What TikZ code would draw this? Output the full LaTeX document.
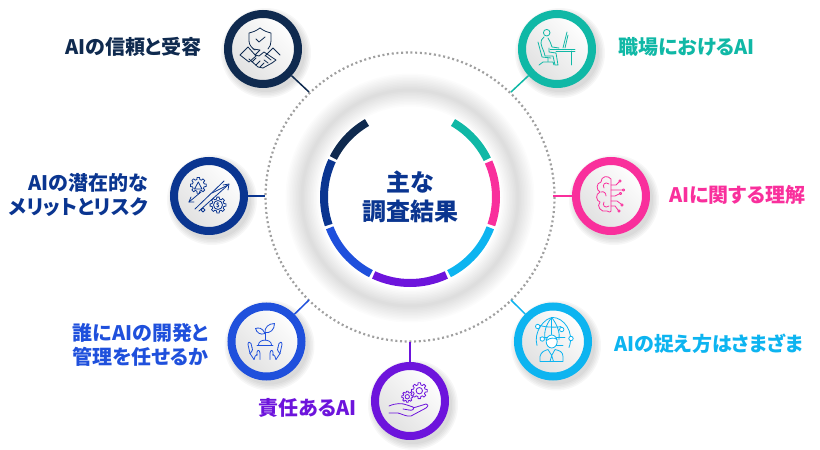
\documentclass[tikz,border=0pt]{standalone}
\usepackage{fontspec}
\setmainfont[RawFeature=+palt]{Noto Sans CJK JP}
\definecolor{navyc}{HTML}{0F2A4F}
\definecolor{tealc}{HTML}{10B8A6}
\definecolor{pinkc}{HTML}{F92F9C}
\definecolor{cyanc}{HTML}{0DB4F0}
\definecolor{purplec}{HTML}{6D14DC}
\definecolor{bluec}{HTML}{1F50DC}
\definecolor{darkbluec}{HTML}{0A3590}
\tikzset{
    x=1pt, y=-1pt,
    every node/.style={font=\fontsize{20}{24}\selectfont\bfseries, inner sep=0pt},
    iconring/.style={circle, draw=#1, line width=8pt, minimum size=70pt, top color=white, bottom color=black!12, shading angle=-45},
    iconline/.style={color=#1, line width=0.8pt, line join=round, line cap=round},
    gearicon/.pic={
        \draw (-14:6) \foreach \a in {0,45,...,315}{ -- (\a-14:6) -- (\a-9:8) -- (\a+9:8) -- (\a+14:6) } -- cycle;
    },
}
\newcommand{\softshadow}[2]{
    \foreach \r in {39,40.5,...,45}{
        \fill[black, opacity=0.03] (#1+3,#2+4) circle (\r);
    }
}
\begin{document}
\begin{tikzpicture}
    \useasboundingbox (0,0) rectangle (820,450);

    % soft grey ring
    \foreach \w in {3,6,...,33}{
        \draw[black, opacity=0.013, line width=\w pt] (410,198) circle (108);
    }

    % dotted circle
    \draw[gray!75, line width=2.2pt, dash pattern=on 2pt off 2.7pt] (410,197) circle (144.5);

    % centre arcs
    \begin{scope}[shift={(410,197)}, line width=8pt]
        \draw[tealc] (-60:86) arc[start angle=-60, end angle=-26, radius=86];
        \draw[pinkc] (-24:86) arc[start angle=-24, end angle=19, radius=86];
        \draw[cyanc] (21:86) arc[start angle=21, end angle=63, radius=86];
        \draw[purplec] (65:86) arc[start angle=65, end angle=115, radius=86];
        \draw[bluec] (117:86) arc[start angle=117, end angle=159, radius=86];
        \draw[darkbluec] (161:86) arc[start angle=161, end angle=205, radius=86];
        \draw[navyc] (207:86) arc[start angle=207, end angle=240, radius=86];
    \end{scope}

    % centre text
    \node[darkbluec, font=\fontsize{24}{29}\selectfont\bfseries, align=center] (title) at (410,197) {主な\\調査結果};

    % ends on the dotted circle
    \coordinate (navyend) at (309,92);
    \coordinate (tealend) at (511,92);
    \coordinate (pinkend) at (553,196);
    \coordinate (cyanend) at (511,300);
    \coordinate (purpleend) at (410,342);
    \coordinate (blueend) at (309,300);
    \coordinate (darkblueend) at (265,196);

    % shadows
    \softshadow{263}{49}
    \softshadow{557}{49}
    \softshadow{611}{196}
    \softshadow{553}{341.5}
    \softshadow{410}{401}
    \softshadow{266.5}{341.5}
    \softshadow{209}{196}

    % icon circles
    \node[iconring=navyc] (navyicon) at (263,49) {};
    \node[iconring=tealc] (tealicon) at (557,49) {};
    \node[iconring=pinkc] (pinkicon) at (611,196) {};
    \node[iconring=cyanc] (cyanicon) at (553,341.5) {};
    \node[iconring=purplec] (purpleicon) at (410,401) {};
    \node[iconring=bluec] (blueicon) at (266.5,341.5) {};
    \node[iconring=darkbluec] (darkblueicon) at (209,196) {};

    % connectors
    \draw[navyc, line width=1.5pt] (navyicon) -- (navyend);
    \draw[tealc, line width=1.5pt] (tealicon) -- (tealend);
    \draw[pinkc, line width=1.5pt] (pinkicon) -- (pinkend);
    \draw[cyanc, line width=1.5pt] (cyanicon) -- (cyanend);
    \draw[purplec, line width=1.5pt] (purpleicon) -- (purpleend);
    \draw[bluec, line width=1.5pt] (blueicon) -- (blueend);
    \draw[darkbluec, line width=1.5pt] (darkblueicon) -- (darkblueend);

    % labels
    \node[navyc, anchor=east] (navylabel) at (202,47) {AIの信頼と受容};
    \node[tealc, anchor=west] (teallabel) at (618,47) {職場におけるAI};
    \node[pinkc, anchor=west] (pinklabel) at (669,195) {AIに関する理解};
    \node[cyanc, anchor=west] (cyanlabel) at (614,344) {AIの捉え方はさまざま};
    \node[purplec, anchor=east] (purplelabel) at (357,408) {責任あるAI};
    \node[bluec, anchor=east, align=center] (bluelabel) at (209,345) {誰にAIの開発と\\管理を任せるか};
    \node[darkbluec, anchor=east, align=right] (darkbluelabel) at (148,195) {AIの潜在的な\\メリットとリスク};

    % shield and handshake
    \begin{scope}[shift={(263,49)}, iconline=navyc]
        \draw (-3,-21) .. controls (-7,-18) and (-10,-17) .. (-14,-16) -- (-14,-8) .. controls (-14,-4) and (-11,-1) .. (-8,1);
        \draw (-3,-21) .. controls (1,-18) and (4,-17) .. (8,-16) -- (8,-8) .. controls (8,-5) and (7,-2) .. (5,0);
        \draw (-7,-10) -- (-4,-7) -- (2,-12);
        \draw (-23,6) -- (-15,-2) -- (-7,7) -- (-14,13) -- cycle;
        \draw (17,6) -- (10,-1) -- (2,7);
        \draw (-10,0) -- (-3,1) -- (-8,6) -- (-4,7) -- (1,3) -- (13,11) -- (9,14);
        \draw (-14,10) -- (-5,18) -- (0,19) -- (9,14);
        \draw (-11,13) -- (-7,9) (-7,16) -- (-3,12) (-3,18) -- (1,14);
        \draw (3,7) -- (8,11) (1,11) -- (5,14);
    \end{scope}

    % person at desk
    \begin{scope}[shift={(557,49)}, iconline=tealc]
        \draw (-10.3,-16.3) circle (3.3);
        \draw (-13,-12) .. controls (-18,-8) and (-16,-4) .. (-13,3) -- (-12,7) -- (-4,7) -- (-2,16) -- (1,16) -- (-1,4) -- (-8,3) -- (-8,-1);
        \draw (-9,-11) .. controls (-7,-8) and (-6,-5) .. (-5,-2) -- (2,-1);
        \draw (-7,0) -- (18,0) (-1,2) -- (18,2);
        \draw (14.5,2) -- (14.5,16);
        \draw (10,-17) -- (6,-1);
        \draw (11,-14) -- (8,-1);
        \draw (-19,-7) -- (-15,8) -- (-6,9);
        \draw (-9,9) -- (-9,12) (-18,16) -- (-14,13) -- (-4,13) -- (-3,16);
    \end{scope}

    % brain with circuits
    \begin{scope}[shift={(611,196)}, iconline=pinkc]
        \draw (0,-17) .. controls (-3,-21) and (-10,-20) .. (-10,-14) .. controls (-15,-13) and (-15,-6) .. (-11,-4) .. controls (-16,-2) and (-15,5) .. (-11,6) .. controls (-15,10) and (-10,17) .. (-4,15) .. controls (-2,17) and (0,16) .. (0,15) -- cycle;
        \draw (-2,-12) .. controls (-6,-15) and (-9,-11) .. (-7,-8);
        \draw (-2,10) .. controls (-6,13) and (-9,9) .. (-7,6);
        \draw (-10,-4) .. controls (-7,-5) and (-5,-3) .. (-5,0);
        \draw (0,-11) -- (5,-11) -- (8,-14) (0,-6) -- (11,-6) (0,0) -- (4,0) -- (8,-2) (0,5) -- (6,5) -- (10,8) (0,10) -- (4,10) -- (7,14);
        \foreach \p in {(9,-15),(12.5,-6),(9.5,-2.5),(11,9),(8,15)}{
            \draw \p circle (1.2);
        }
    \end{scope}

    % person and globe
    \begin{scope}[shift={(553,341.5)}, iconline=cyanc]
        \draw (-16,4) .. controls (-20,-10) and (-8,-24) .. (0,-24) .. controls (10,-24) and (22,-10) .. (16,6);
        \draw (-1.3,-24) -- (-1.3,-7) (1,4) -- (10,4) (-13,-4) -- (12,-4);
        \draw (-13,-16) .. controls (-7,-14) and (5,-14) .. (8,-15);
        \draw (-1.3,-24) .. controls (-8,-16) and (-9,-8) .. (-8,-2);
        \draw (-1.3,-24) .. controls (5,-16) and (7,-8) .. (6,-2);
        \foreach \p in {(-15.3,-15),(8.7,-12),(-10.7,-2.5),(18,-3)}{
            \draw[fill=white] \p circle (2.2);
        }
        \draw[fill=white] (-1.3,0) ellipse (5.5 and 6.5);
        \draw (-6.5,-1) .. controls (-3,-4) and (2,-4) .. (4,-2);
        \draw (-13,20) -- (-13,15) .. controls (-12,10) and (-8,9) .. (-5,8) -- (-1.3,14) -- (2,8) .. controls (6,9) and (10,10) .. (10,15) -- (10,20) -- cycle;
        \draw (-1.3,14) -- (-3,20) (-1.3,14) -- (0.5,20);
    \end{scope}

    % gears on a hand
    \begin{scope}[shift={(410,401)}, iconline=purplec]
        \path (9.3,-10.3) pic {gearicon};
        \draw (9.3,-10.3) circle (3.2);
        \path (-2.7,-4.3) pic[scale=0.7] {gearicon};
        \draw (-2.7,-4.3) circle (2.2);
        \draw (-21,5) .. controls (-14,2) and (-8,2) .. (-3,4) -- (3,6) .. controls (5,8) and (2,10) .. (-1,9) -- (-7,8);
        \draw (3,7) -- (16,3) .. controls (19,4) and (18,6) .. (16,7) -- (1,15) .. controls (-3,16) and (-8,13) .. (-12,12) -- (-21,12);
    \end{scope}

    % sprout in hands
    \begin{scope}[shift={(266.5,341.5)}, iconline=bluec]
        \draw (-1.5,-1.5) -- (-1.5,-9);
        \draw (-1.5,-8) .. controls (-4,-14) and (-8,-14) .. (-11,-13) .. controls (-10,-9) and (-6,-6) .. (-1.5,-8);
        \draw (-1.5,-9) .. controls (-2,-14) and (2,-18) .. (8,-18) .. controls (8,-12) and (4,-8) .. (-1.5,-9);
        \draw (-8,3.5) .. controls (-8,-3) and (5,-3) .. (5,3.5);
        \draw (-9.5,3.5) -- (6.5,3.5);
        \foreach \s in {-1,1}{
            \begin{scope}[shift={(-1.5,0)}, xscale=\s]
                \draw (5,18) -- (5,12) .. controls (5,8) and (8,8) .. (8,11) -- (8,14);
                \draw (11,18) .. controls (11,15) and (9,14) .. (8,13);
                \draw (11,18) -- (15,12) -- (17,3) .. controls (17,0) and (15,0) .. (14,2) -- (13,6);
                \draw (15,12) .. controls (12,9) and (12,7) .. (13,6);
            \end{scope}
        }
    \end{scope}

    % gears, percent and arrows
    \begin{scope}[shift={(209,196)}, iconline=darkbluec]
        \path (-10.7,-10.7) pic {gearicon};
        \draw (-14.5,-7) -- (-10.7,-14) -- (-7,-7) -- cycle;
        \path (9,9) pic {gearicon};
        \draw (9,9) circle (4.5);
        \node[darkbluec, font=\fontsize{6}{6}\selectfont\bfseries] (dollar) at (9,9) {\$};
        \draw (-14,13) -- (15,-15) (-10,15) -- (19,-11);
        \draw (-18,1) -- (-20,6) -- (-15,6);
        \draw (-20,6) -- (-8,-4);
        \draw (14,-11) -- (20,-12) -- (19,-6);
        \draw (3,-3) -- (19,-11);
        \draw (-6,12) -- (-4,14) -- (-6,16) -- (-8,14) -- cycle;
    \end{scope}
\end{tikzpicture}
\end{document}
